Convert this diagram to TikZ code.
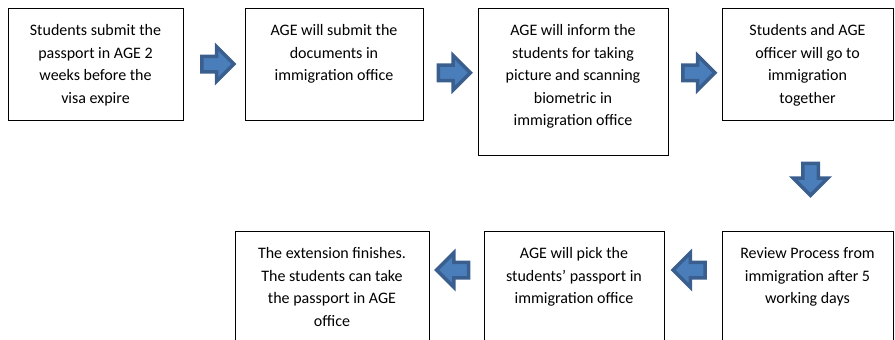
\documentclass[tikz,border=0pt]{standalone}
\usepackage{fontspec}
\setmainfont{Carlito}
\usetikzlibrary{positioning, calc, shapes.arrows}
\definecolor{arrowfill}{HTML}{4A7EBB}
\definecolor{arrowline}{HTML}{3A5F8E}

\begin{document}
\begin{tikzpicture}[x=1pt, y=-1pt,
  box/.style={draw, line width=0.8pt, anchor=north west, inner sep=0, outer sep=0},
  boxtext/.style={anchor=north, inner sep=0, align=center,
    font=\fontsize{16}{22.4}\selectfont, yshift=-16.5pt},
  blockarrow/.style={single arrow, fill=arrowfill, draw=arrowline, line width=3.5pt,
    minimum height=32pt, minimum width=32pt, single arrow head extend=9.5pt,
    inner sep=6pt, outer sep=0}]

% Manually size the picture
\useasboundingbox (0,0) rectangle (895,340);
\clip (0,0) rectangle (895,340);

% Top row of steps
\node[box, minimum width=175pt, minimum height=112pt] (s1) at (8,8) {};
\node[boxtext] (t1) at (s1.north) {Students submit the\\passport in AGE 2\\weeks before the\\visa expire};

\node[box, minimum width=178pt, minimum height=112pt] (s2) at (245,8) {};
\node[boxtext] (t2) at (s2.north) {AGE will submit the\\documents in\\immigration office};

\node[box, minimum width=190pt, minimum height=147pt] (s3) at (478,8) {};
\node[boxtext] (t3) at (s3.north) {AGE will inform the\\students for taking\\picture and scanning\\biometric in\\immigration office};

\node[box, minimum width=171pt, minimum height=112pt] (s4) at (722,8) {};
\node[boxtext] (t4) at (s4.north) {Students and AGE\\officer will go to\\immigration\\together};

% Bottom row of steps
\node[box, minimum width=171pt, minimum height=112pt] (s5) at (722,231) {};
\node[boxtext] (t5) at (s5.north) {Review Process from\\immigration after 5\\working days};

\node[box, minimum width=180pt, minimum height=112pt] (s6) at (484,231) {};
\node[boxtext] (t6) at (s6.north) {AGE will pick the\\students’ passport in\\immigration office};

\node[box, minimum width=194pt, minimum height=112pt] (s7) at (235,231) {};
\node[boxtext] (t7) at (s7.north) {The extension finishes.\\The students can take\\the passport in AGE\\office};

% Arrows to the right
\node[blockarrow] (a12) at ($(s1.east)!0.5!(s2.west)$) {};
\node[blockarrow] (a23) at ($(s2.east)!0.5!(s3.west)$) {};
\node[blockarrow] (a34) at ($(s3.east)!0.5!(s4.west)$) {};

% Arrow down
\node[blockarrow, shape border rotate=270, xshift=3pt] (a45) at ($(s4.south)!0.5!(s5.north)$) {};

% Arrows to the left
\node[blockarrow, shape border rotate=180, yshift=-39pt] (a56) at ($(s5.north west)!0.5!(s6.north east)$) {};
\node[blockarrow, shape border rotate=180, yshift=-39pt] (a67) at ($(s6.north west)!0.5!(s7.north east)$) {};

\end{tikzpicture}
\end{document}
